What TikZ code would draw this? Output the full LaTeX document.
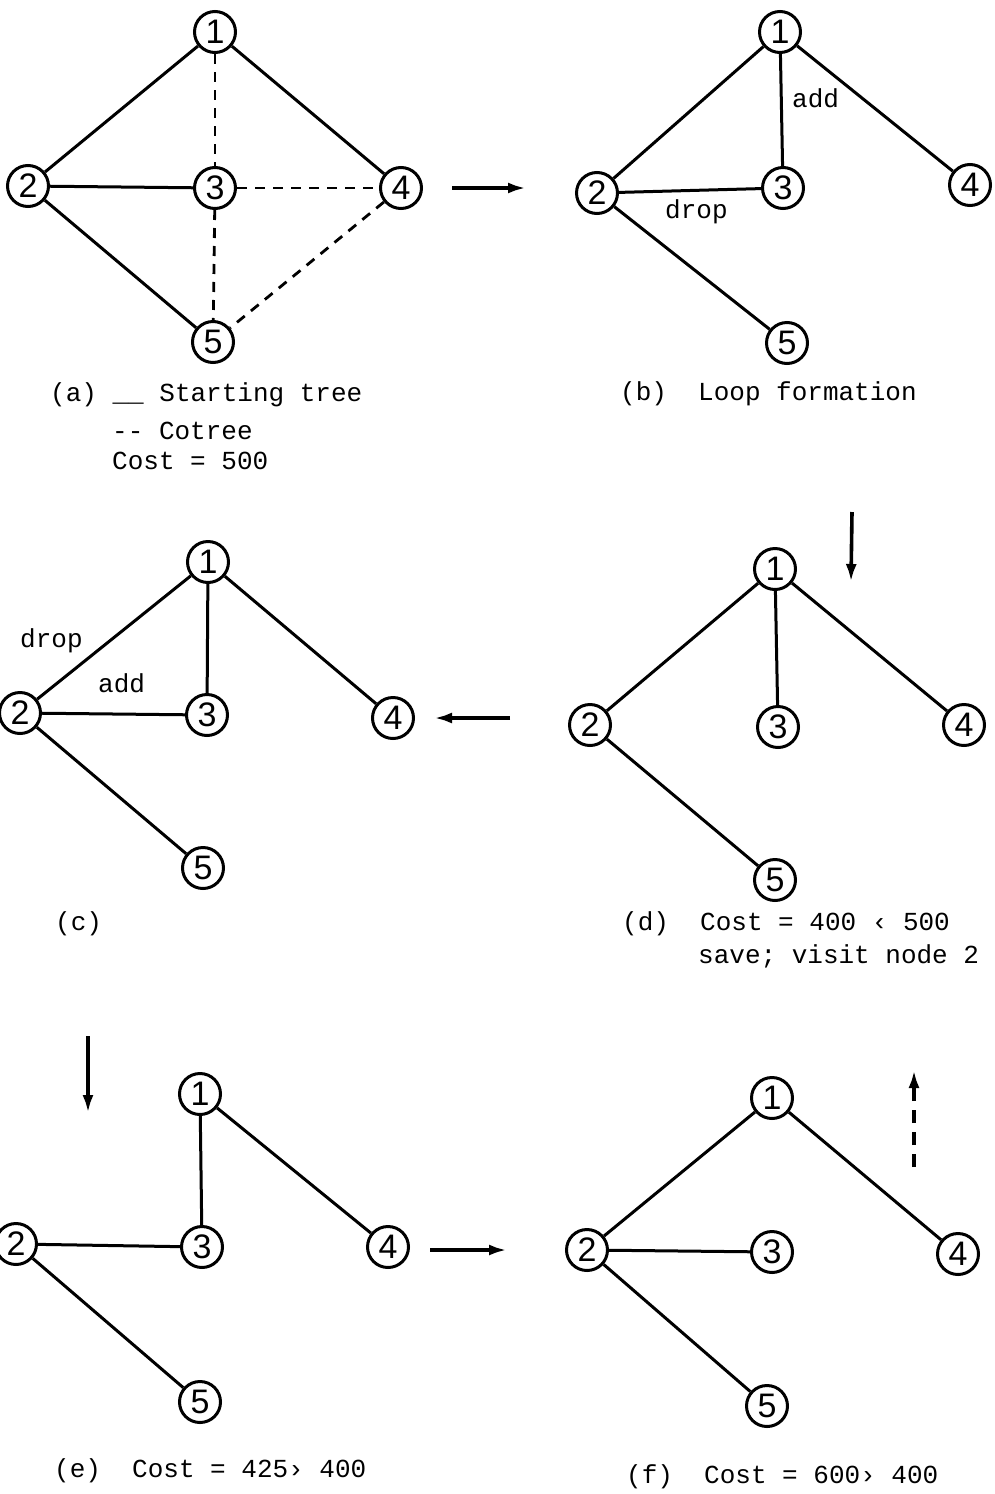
\documentclass[tikz,border=0pt]{standalone}
\usepackage{fontspec}
\setmonofont{Liberation Mono}
\setsansfont{Liberation Sans}
\usetikzlibrary{arrows.meta}
\tikzset{
    vnode/.style = {circle, line width=3pt, draw=black, inner sep=0pt, minimum size=41pt, font=\sffamily\fontsize{34}{34}\selectfont, text=black},
    edget/.style = {-, line width=3pt, black}, % tree
    edgec/.style = {-, line width=2.8pt, black, dash pattern=on 10pt off 8pt}, % cotree
    movear/.style = {-{Latex[length=18pt,width=11pt]}, line width=3.6pt, black},
    movead/.style = {movear, dash pattern=on 13pt off 9pt},
    txt/.style = {anchor=base west, inner sep=0pt, font=\ttfamily\fontsize{26}{30}\selectfont},
}

\begin{document}
\begin{tikzpicture}[x=1pt, y=-1pt]
\useasboundingbox (0,0) rectangle (995,1494);
% (a) starting tree and cotree
\node[vnode] at (215,32) (a1) {1};
\node[vnode] at (28,186) (a2) {2};
\node[vnode] at (215,188) (a3) {3};
\node[vnode] at (401,188) (a4) {4};
\node[vnode] at (213,342) (a5) {5};
\draw[edget] (a1) edge (a2) (a1) edge (a4) (a2) edge (a3) (a2) edge (a5);
\draw[edgec] (a1) edge (a3) (a3) edge (a4) (a3) edge (a5) (a4) edge (a5);
\node[txt] at (50,401) (capa) {(a) \_\_ Starting tree};
\node[txt] at (112,439) (cota) {-{}- Cotree};
\node[txt] at (112,469) (costa) {Cost = 500};
% (b) loop formation
\node[vnode] at (780,32) (b1) {1};
\node[vnode] at (597,193) (b2) {2};
\node[vnode] at (783,188) (b3) {3};
\node[vnode] at (970,185) (b4) {4};
\node[vnode] at (787,343) (b5) {5};
\draw[edget] (b1) edge (b2) (b1) edge (b3) (b1) edge (b4) (b2) edge (b3) (b2) edge (b5);
\node[txt] at (792,107) (addb) {add};
\node[txt] at (665,218) (dropb) {drop};
\node[txt] at (620,400) (capb) {(b)\ \ Loop formation};
% (c)
\node[vnode] at (208,562) (c1) {1};
\node[vnode] at (20,713) (c2) {2};
\node[vnode] at (207,715) (c3) {3};
\node[vnode] at (393,718) (c4) {4};
\node[vnode] at (203,868) (c5) {5};
\draw[edget] (c1) edge (c2) (c1) edge (c3) (c1) edge (c4) (c2) edge (c3) (c2) edge (c5);
\node[txt] at (20,647) (dropc) {drop};
\node[txt] at (98,692) (addc) {add};
\node[txt] at (55,930) (capc) {(c)};
% (d)
\node[vnode] at (775,569) (d1) {1};
\node[vnode] at (590,725) (d2) {2};
\node[vnode] at (778,727) (d3) {3};
\node[vnode] at (964,725) (d4) {4};
\node[vnode] at (775,880) (d5) {5};
\draw[edget] (d1) edge (d2) (d1) edge (d3) (d1) edge (d4) (d2) edge (d5);
\node[txt] at (622,930) (capd) {(d)\ \ Cost = 400 ‹ 500};
\node[txt] at (698,963) (saved) {save; visit node 2};
% (e)
\node[vnode] at (200,1094) (e1) {1};
\node[vnode] at (16,1244) (e2) {2};
\node[vnode] at (202,1247) (e3) {3};
\node[vnode] at (388,1247) (e4) {4};
\node[vnode] at (200,1402) (e5) {5};
\draw[edget] (e1) edge (e3) (e1) edge (e4) (e2) edge (e3) (e2) edge (e5);
\node[txt] at (54,1477) (cape) {(e)\ \ Cost = 425› 400};
% (f)
\node[vnode] at (772,1098) (f1) {1};
\node[vnode] at (587,1250) (f2) {2};
\node[vnode] at (772,1252) (f3) {3};
\node[vnode] at (958,1254) (f4) {4};
\node[vnode] at (767,1406) (f5) {5};
\draw[edget] (f1) edge (f2) (f1) edge (f4) (f2) edge (f3) (f2) edge (f5);
\node[txt] at (626,1483) (capf) {(f)\ \ Cost = 600› 400};
% moves between the steps
\coordinate (ab0) at (452,188);
\coordinate (ab1) at (526,188);
\coordinate (dc0) at (510,718);
\coordinate (dc1) at (434,718);
\coordinate (bd0) at (852,512);
\coordinate (bd1) at (851,582);
\coordinate (ce0) at (88,1036);
\coordinate (ce1) at (88,1113);
\coordinate (ef0) at (430,1250);
\coordinate (ef1) at (507,1250);
\coordinate (fx0) at (914,1167);
\coordinate (fx1) at (914,1070);
\draw[movear] (ab0) -- (ab1);
\draw[movear] (dc0) -- (dc1);
\draw[movear] (bd0) -- (bd1);
\draw[movear] (ce0) -- (ce1);
\draw[movear] (ef0) -- (ef1);
\draw[movead] (fx0) -- (fx1);
\end{tikzpicture}
\end{document}
